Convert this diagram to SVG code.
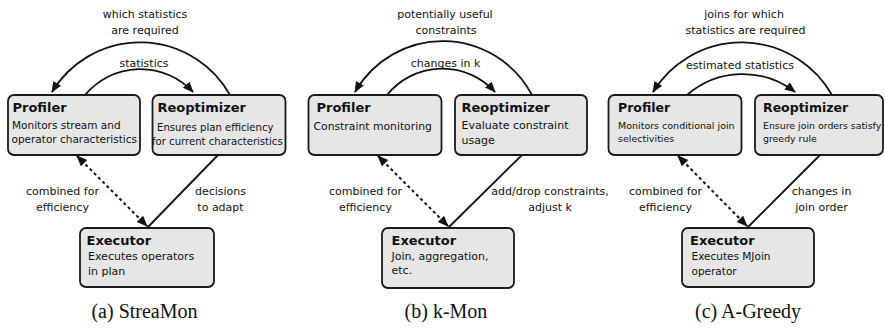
<svg xmlns="http://www.w3.org/2000/svg" width="885" height="329" viewBox="0 0 885 329">
<style>
.box{fill:#e6e6e6;stroke:#1a1a1a;stroke-width:1.8}
.t{font-family:"DejaVu Sans",sans-serif;font-weight:bold;font-size:13px;fill:#111}
.b{font-family:"DejaVu Sans",sans-serif;font-size:10.5px;fill:#111}
.l{font-family:"DejaVu Sans",sans-serif;font-size:11px;fill:#111;text-anchor:middle}
.cap{font-family:"Liberation Serif","Times New Roman",serif;font-size:20px;fill:#111;text-anchor:middle}
.arc{fill:none;stroke:#111;stroke-width:1.8;marker-end:url(#ah)}
.dot{fill:none;stroke:#111;stroke-width:2;stroke-dasharray:3,3;marker-start:url(#ahs);marker-end:url(#ah)}
.sol{fill:none;stroke:#111;stroke-width:1.8}
</style>
<defs>
<marker id="ah" markerUnits="userSpaceOnUse" markerWidth="12" markerHeight="10" refX="10" refY="4.5" orient="auto">
<path d="M0,0 L11,4.5 L0,9 z" fill="#111"/>
</marker>
<marker id="ahs" markerUnits="userSpaceOnUse" markerWidth="12" markerHeight="10" refX="10" refY="4.5" orient="auto-start-reverse">
<path d="M0,0 L11,4.5 L0,9 z" fill="#111"/>
</marker>
</defs>

<!-- Panel (a) -->
<g id="a-profiler">
<rect class="box" x="8" y="95" width="132" height="60" rx="6"/>
<text class="t" x="12.5" y="111.5">Profiler</text>
<text class="b" x="12" y="128.5">Monitors stream and</text>
<text class="b" x="11.5" y="142.5">operator characteristics</text>
</g>
<g id="a-reoptimizer">
<rect class="box" x="152.5" y="95" width="133" height="60" rx="6"/>
<text class="t" x="157.5" y="111.5">Reoptimizer</text>
<text class="b" x="157" y="130.5" style="font-size:10.1px">Ensures plan efficiency</text>
<text class="b" x="152" y="144.5" style="font-size:10.1px">for current characteristics</text>
</g>
<g id="a-executor">
<rect class="box" x="80" y="228" width="134" height="59" rx="6"/>
<text class="t" x="86.5" y="245">Executor</text>
<text class="b" x="88" y="260" style="font-size:11px">Executes operators</text>
<text class="b" x="88" y="275" style="font-size:11px">in plan</text>
</g>

<!-- Panel (b) -->
<g id="b-profiler">
<rect class="box" x="308.5" y="95" width="133" height="60" rx="6"/>
<text class="t" x="316.5" y="111.5">Profiler</text>
<text class="b" x="313.5" y="130" style="font-size:10.8px">Constraint monitoring</text>
</g>
<g id="b-reoptimizer">
<rect class="box" x="455" y="95" width="132" height="60" rx="6"/>
<text class="t" x="461.5" y="111.5">Reoptimizer</text>
<text class="b" x="461.5" y="128.5" style="font-size:11px">Evaluate constraint</text>
<text class="b" x="461.5" y="143.5" style="font-size:11px">usage</text>
</g>
<g id="b-executor">
<rect class="box" x="382" y="228" width="132" height="60" rx="6"/>
<text class="t" x="391.5" y="245">Executor</text>
<text class="b" x="391.5" y="260" style="font-size:11px">Join, aggregation,</text>
<text class="b" x="391.5" y="274" style="font-size:11px">etc.</text>
</g>

<!-- Panel (c) -->
<g id="c-profiler">
<rect class="box" x="608.5" y="95" width="133" height="60" rx="6"/>
<text class="t" x="618" y="111.5" style="font-size:12.5px">Profiler</text>
<text class="b" x="618" y="128.5" style="font-size:9.5px">Monitors conditional join</text>
<text class="b" x="618" y="142" style="font-size:9.5px">selectivities</text>
</g>
<g id="c-reoptimizer">
<rect class="box" x="755" y="95" width="128" height="60" rx="6"/>
<text class="t" x="763" y="111.5" style="font-size:12.5px">Reoptimizer</text>
<text class="b" x="763" y="128.5" style="font-size:9.4px">Ensure join orders satisfy</text>
<text class="b" x="763" y="142" style="font-size:9.4px">greedy rule</text>
</g>
<g id="c-executor">
<rect class="box" x="682" y="228" width="132" height="59" rx="6"/>
<text class="t" x="690" y="245">Executor</text>
<text class="b" x="691.5" y="260">Executes MJoin</text>
<text class="b" x="691.5" y="275">operator</text>
</g>

<g id="connectors">
<path class="arc" d="M230,95 A103,103 0 0,0 52,92"/>
<path class="arc" d="M85,95 A72,72 0 0,1 193,92"/>
<path class="dot" d="M77,156 L147,226"/>
<path class="sol" d="M218,155 L147,228"/>

<path class="arc" d="M532,95 A101,101 0 0,0 355,92"/>
<path class="arc" d="M387,95 A71,71 0 0,1 495,92"/>
<path class="dot" d="M378,156 L448,226"/>
<path class="sol" d="M522,155 L448,228"/>

<path class="arc" d="M832,95 A104,104 0 0,0 653,92"/>
<path class="arc" d="M687,95 A85,85 0 0,1 795,92"/>
<path class="dot" d="M678,156 L747,226"/>
<path class="sol" d="M820,155 L747,228"/>
</g>

<g id="labels">
<text class="l" x="145" y="17.5">which statistics</text>
<text class="l" x="145" y="33.5">are required</text>
<text class="l" x="144" y="66.5">statistics</text>
<text class="l" x="62.5" y="195">combined for</text>
<text class="l" x="62.5" y="210.5">efficiency</text>
<text class="l" x="220.5" y="195">decisions</text>
<text class="l" x="220.5" y="210.5">to adapt</text>

<text class="l" x="445" y="17.5">potentially useful</text>
<text class="l" x="446" y="33.5">constraints</text>
<text class="l" x="445.5" y="66.5">changes in k</text>
<text class="l" x="365.5" y="195">combined for</text>
<text class="l" x="365.5" y="210.5">efficiency</text>
<text class="l" x="550" y="195">add/drop constraints,</text>
<text class="l" x="550" y="210.5">adjust k</text>

<text class="l" x="744" y="17.5">joins for which</text>
<text class="l" x="745.5" y="33.5">statistics are required</text>
<text class="l" x="740" y="68.5">estimated statistics</text>
<text class="l" x="665.5" y="195">combined for</text>
<text class="l" x="665.5" y="210.5">efficiency</text>
<text class="l" x="821.5" y="195">changes in</text>
<text class="l" x="821.5" y="210.5">join order</text>
</g>

<g id="captions">
<text class="cap" x="144.5" y="318">(a) StreaMon</text>
<text class="cap" x="446" y="318">(b) k-Mon</text>
<text class="cap" x="748" y="318">(c) A-Greedy</text>
</g>
</svg>
